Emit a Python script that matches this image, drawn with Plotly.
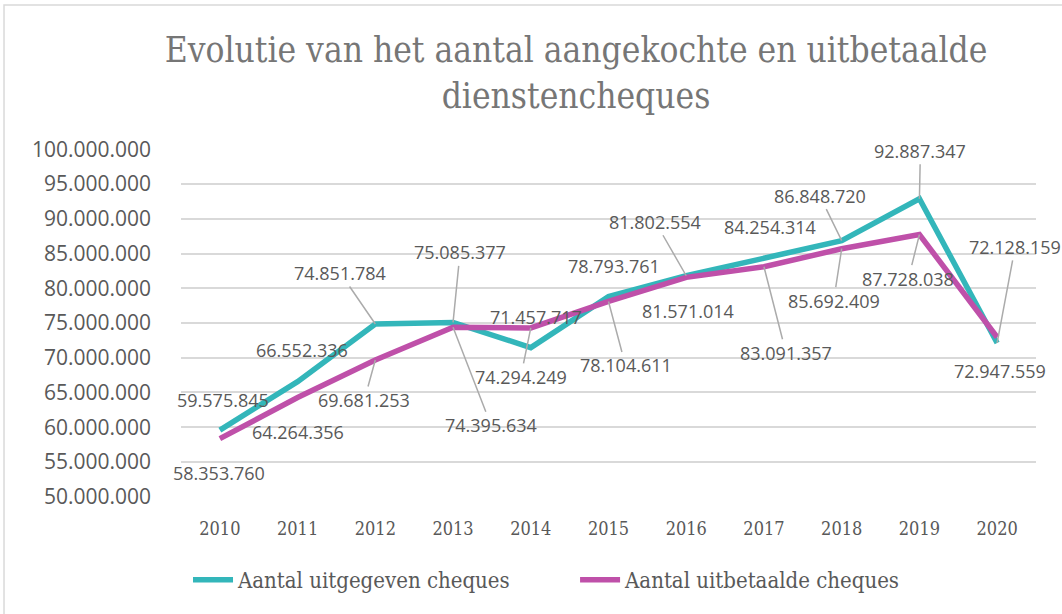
import plotly.graph_objects as go

jaren = [2010, 2011, 2012, 2013, 2014, 2015, 2016, 2017, 2018, 2019, 2020]
uitgegeven = [59575845, 66552336, 74851784, 75085377, 71457717, 78793761,
              81802554, 84254314, 86848720, 92887347, 72128159]
uitbetaald = [58353760, 64264356, 69681253, 74395634, 74294249, 78104611,
              81571014, 83091357, 85692409, 87728038, 72947559]

# label offsets in pixels (dx, dy) and whether a leader line is drawn
off_uitgegeven = [(3, -30), (4, -32), (-35, -51), (7, -70), (5, -31), (5, -31),
                  (-31, -54), (6, -32), (-22, -45), (1, -48), (18, -96)]
lead_uitgegeven = [0, 0, 1, 1, 0, 0, 1, 0, 1, 1, 1]
off_uitbetaald = [(-1, 34), (0, 34), (-11, 40), (38, 98), (-10, 49), (17, 64),
                  (2, 34), (22, 86), (-8, 52), (-11, 44), (3, 34)]
lead_uitbetaald = [0, 0, 1, 1, 1, 1, 0, 1, 1, 1, 0]

TEAL = "#33B6BA"
PAARS = "#BF50A9"
GRIJS = "#595959"
SERIF = "DejaVu Serif Condensed, DejaVu Serif, serif"
SANS = "Open Sans, sans-serif"

fig = go.Figure()
fig.add_trace(go.Scatter(x=jaren, y=uitgegeven, mode="lines", name="Aantal uitgegeven cheques",
                         line=dict(color=TEAL, width=5.5), legend="legend"))
fig.add_trace(go.Scatter(x=jaren, y=uitbetaald, mode="lines", name="Aantal uitbetaalde cheques",
                         line=dict(color=PAARS, width=5.5), legend="legend2"))


def fmt(v):
    return f"{v:,}".replace(",", ".")


for vals, offs, leads in [(uitgegeven, off_uitgegeven, lead_uitgegeven),
                          (uitbetaald, off_uitbetaald, lead_uitbetaald)]:
    for j, v, (dx, dy), ld in zip(jaren, vals, offs, leads):
        fig.add_annotation(x=j, y=v, text=fmt(v), showarrow=True, ax=dx, ay=dy,
                           arrowhead=0, arrowwidth=1.5, standoff=0,
                           arrowcolor="#ABABAB" if ld else "rgba(0,0,0,0)",
                           font=dict(family=SANS, size=18, color=GRIJS))

# chart border
fig.add_shape(type="rect", xref="paper", yref="paper", x0=-0.207, x1=1.2, y0=-0.6, y1=1.414,
              line=dict(color="#D9D9D9", width=1.5), layer="below")

legend_font = dict(family=SERIF, size=22, color=GRIJS)

fig.update_layout(
    width=1062, height=614,
    margin=dict(l=181, r=26, t=149, b=117),
    paper_bgcolor="white", plot_bgcolor="white",
    separators=",.",
    title=dict(text="Evolutie van het aantal aangekochte en uitbetaalde<br>dienstencheques",
               x=0.462, xref="paper", xanchor="center", y=0.899, yanchor="top",
               font=dict(family=SERIF, size=35, color="#767676")),
    xaxis=dict(range=[2009.5, 2020.5], dtick=1, tickformat="d", autorange=False,
               showgrid=False, showline=False, zeroline=False, ticks="", ticklabelstandoff=19,
               tickfont=dict(family=SERIF, size=18, color=GRIJS)),
    yaxis=dict(range=[49950000, 100050000], autorange=False, dtick=5000000, tickformat=",d",
               showgrid=True, gridcolor="#D9D9D9", gridwidth=1.5, zeroline=False,
               ticks="", ticklabelstandoff=29,
               tickfont=dict(family=SANS, size=21, color=GRIJS)),
    legend=dict(orientation="h", x=0.0082, xanchor="left", y=-0.2385, yanchor="middle",
                font=legend_font, itemwidth=40),
    legend2=dict(orientation="h", x=0.4609, xanchor="left", y=-0.2385, yanchor="middle",
                 font=legend_font, itemwidth=40),
    showlegend=True,
)

fig.write_html("out.html", config={"displayModeBar": False},
               post_script="document.body.style.margin='0px';")
